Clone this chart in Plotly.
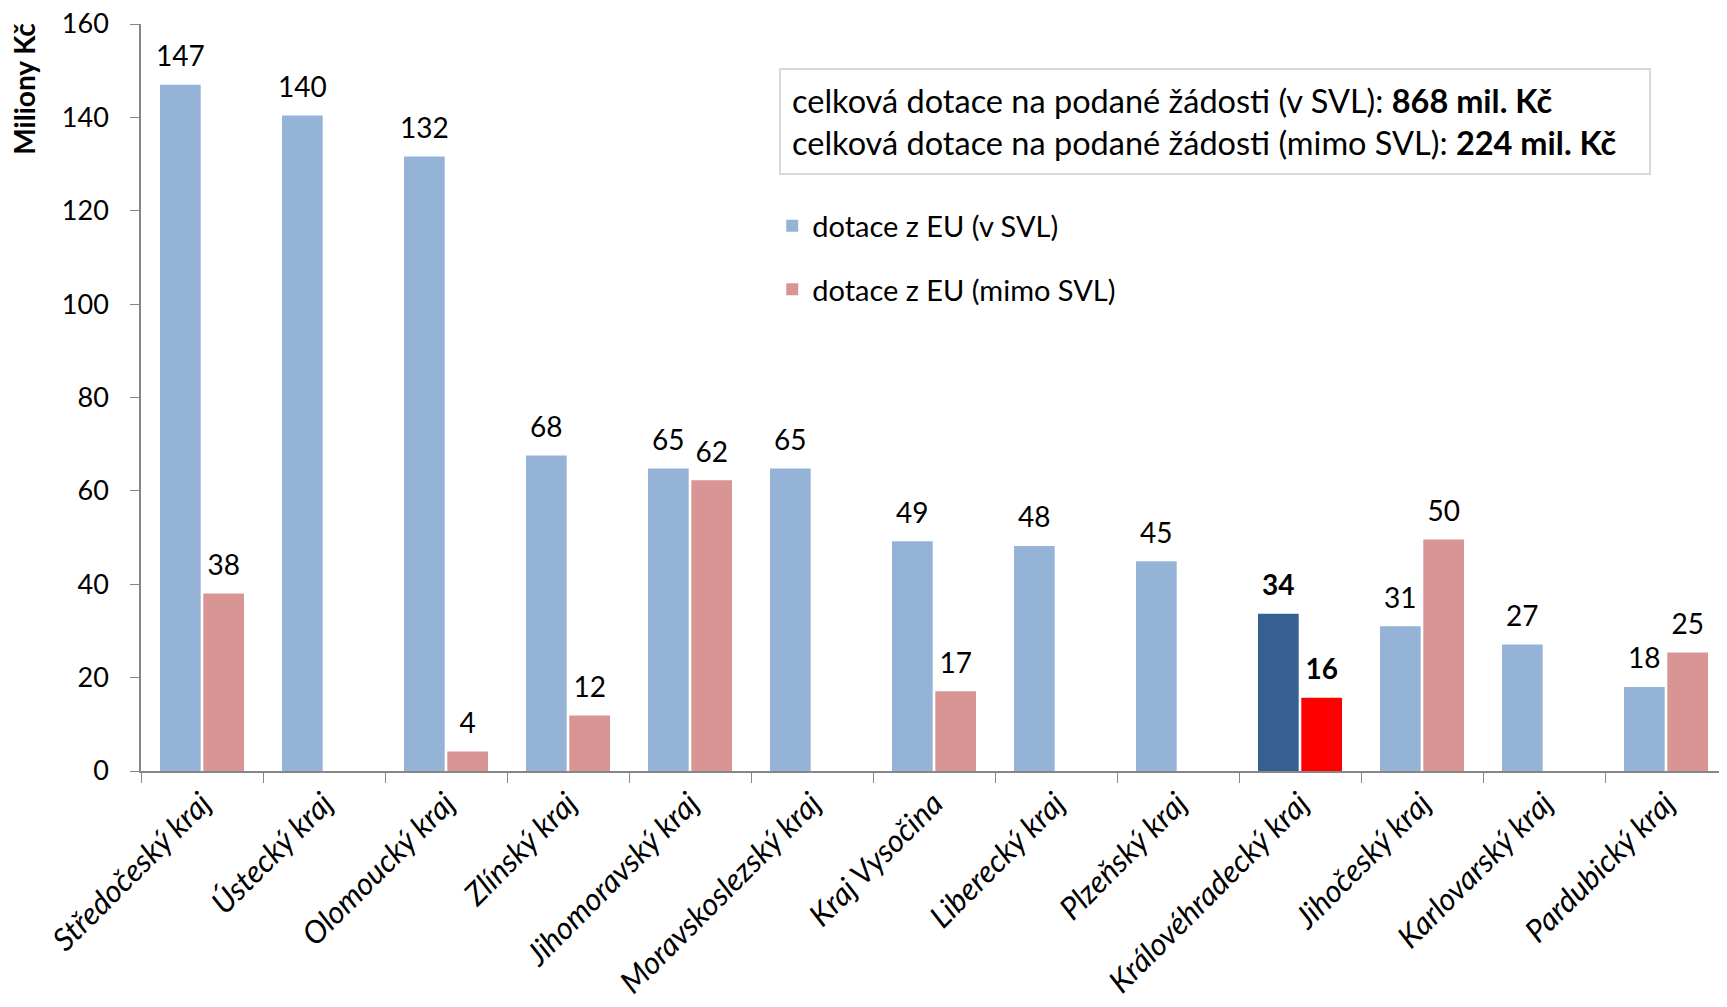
import plotly.graph_objects as go

categories = ["Středočeský kraj", "Ústecký kraj", "Olomoucký kraj", "Zlínský kraj",
              "Jihomoravský kraj", "Moravskoslezský kraj", "Kraj Vysočina",
              "Liberecký kraj", "Plzeňský kraj", "Královéhradecký kraj",
              "Jihočeský kraj", "Karlovarský kraj", "Pardubický kraj"]
v_svl = [147.0, 140.4, 131.6, 67.6, 64.8, 64.8, 49.2, 48.2, 44.9, 33.7, 31.0, 27.1, 18.0]
mimo_svl = [38.0, None, 4.2, 11.9, 62.3, None, 17.1, None, None, 15.7, 49.6, None, 25.4]
highlight = "Královéhradecký kraj"
total_v = 868
total_mimo = 224

FONT = "Lato"
BLUE, RED = "#95B3D7", "#D99594"
HBLUE, HRED = "#366092", "#FF0000"

def labels(vals):
    out = []
    for c, v in zip(categories, vals):
        if v is None:
            out.append("")
        elif c == highlight:
            out.append(f"<b>{v:.0f}</b>")
        else:
            out.append(f"{v:.0f}")
    return out

fig = go.Figure()
series = [
    ("dotace z EU (v SVL)", v_svl, BLUE, HBLUE, "a"),
    ("dotace z EU (mimo SVL)", mimo_svl, RED, HRED, "b"),
]
for name, vals, col, hcol, grp in series:
    fig.add_trace(go.Bar(
        x=categories, y=vals, name=name,
        marker_color=[hcol if c == highlight else col for c in categories],
        marker_line_width=0, offsetgroup=grp, legendgroup=grp,
    ))
for name, vals, col, hcol, grp in series:
    fig.add_trace(go.Scatter(
        x=categories, y=vals, mode="markers+text", offsetgroup=grp,
        text=labels(vals), textposition="top center",
        marker=dict(size=17, opacity=0, color="white"),
        textfont=dict(family=FONT, size=28, color="black"),
        showlegend=False, hoverinfo="skip", cliponaxis=False,
    ))

fig.update_layout(
    width=1719, height=999,
    margin=dict(l=133, r=0, t=16, b=236, autoexpand=False),
    paper_bgcolor="white", plot_bgcolor="white",
    barmode="group", bargap=0.29, bargroupgap=0.06,
    scattermode="group", scattergap=0.29,
    font=dict(family=FONT, size=24, color="black"),
    showlegend=True,
    legend=dict(x=0.398, y=0.764, xanchor="left", yanchor="top",
                font=dict(family=FONT, size=29), tracegroupgap=23,
                itemwidth=30, bgcolor="rgba(0,0,0,0)"),
    xaxis=dict(tickangle=-45, tickson="boundaries", ticks="outside", ticklen=10,
               tickcolor="#868686", showline=True, linecolor="#868686", linewidth=2,
               tickfont=dict(family=FONT, size=31, style="italic"),
               range=[-0.5, 12.5], automargin=False),
    yaxis=dict(range=[0, 160], dtick=20, ticks="outside", ticklen=9,
               tickcolor="#868686", showline=True, linecolor="#868686", linewidth=1.5,
               showgrid=False, zeroline=False, ticklabelstandoff=16,
               ticklabeloverflow="allow", automargin=False,
               tickfont=dict(family=FONT, size=27)),
)

fig.add_annotation(
    xref="paper", yref="paper", x=-0.074, y=1.004, xanchor="center", yanchor="top",
    text="<b>Miliony Kč</b>", textangle=-90, showarrow=False,
    font=dict(family=FONT, size=28, color="black"),
)
fig.add_annotation(
    xref="paper", yref="paper", x=0.402, y=0.941, xanchor="left", yanchor="top",
    text=(f"celková dotace na podané žádosti (v SVL): <b>{total_v} mil. Kč</b><br>"
          f"celková dotace na podané žádosti (mimo SVL): <b>{total_mimo} mil. Kč</b>"),
    showarrow=False, align="left", width=846,
    font=dict(family=FONT, size=32.5, color="black"),
    bordercolor="#D9D9D9", borderwidth=2, borderpad=11, bgcolor="white",
)

fig.write_html("out.html")
